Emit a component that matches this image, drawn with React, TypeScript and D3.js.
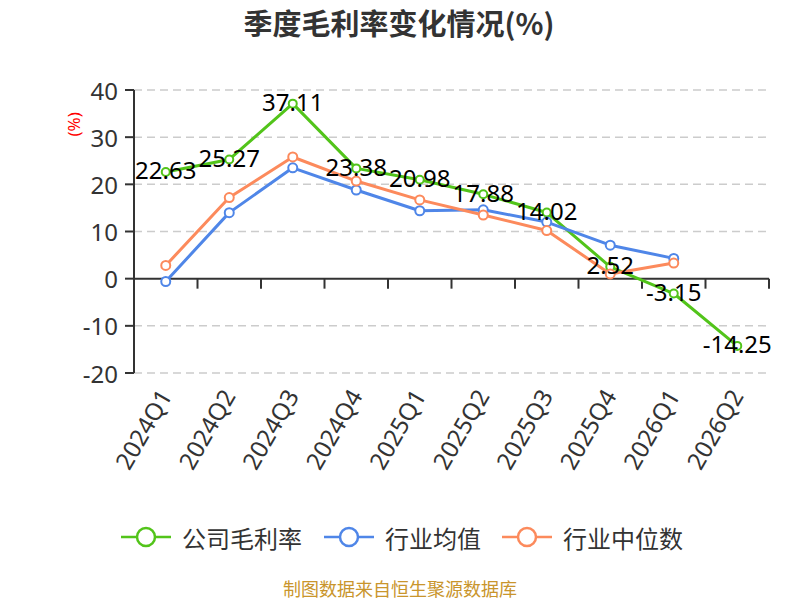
import React from "react";
import * as d3 from "d3";

const quarters = [
  "2024Q1", "2024Q2", "2024Q3", "2024Q4", "2025Q1",
  "2025Q2", "2025Q3", "2025Q4", "2026Q1", "2026Q2",
];
const companyMargin = [22.63, 25.27, 37.11, 23.38, 20.98, 17.88, 14.02, 2.52, -3.15, -14.25];
const industryAvg = [-0.6, 14.0, 23.5, 18.8, 14.4, 14.6, 12.0, 7.1, 4.3];
const industryMedian = [2.8, 17.2, 25.8, 20.7, 16.7, 13.5, 10.2, 1.0, 3.3];
const yTicks = [-20, -10, 0, 10, 20, 30, 40];

const seriesNames = ["公司毛利率", "行业均值", "行业中位数"];
const colors = ["#52c41a", "#4f86e8", "#fc8a5c"];

const FONT = "'Noto Sans', 'Noto Sans CJK SC', sans-serif";
const CJK = "'Noto Sans CJK SC', sans-serif";

const margin = { top: 90, right: 31, bottom: 227, left: 134 };
const W = 800;
const H = 600;

export default function App() {
  const x = d3
    .scaleBand<string>()
    .domain(quarters)
    .range([margin.left, W - margin.right]);
  const y = d3
    .scaleLinear()
    .domain([-20, 40])
    .range([H - margin.bottom, margin.top]);

  const cx = (i: number) => (x(quarters[i]) as number) + x.bandwidth() / 2;
  const line = d3
    .line<number>()
    .x((_, i) => cx(i))
    .y((d) => y(d));

  const all = [companyMargin, industryAvg, industryMedian];
  const y0 = y(0);

  return (
    <svg
      width={W}
      height={H}
      style={{ position: "absolute", left: 0, top: 0, background: "#fff" }}
      fontFamily={FONT}
    >
      {/* title */}
      <text x={399} y={22} textAnchor="middle" dominantBaseline="central" fontSize={29} fontWeight="bold" fill="#333" fontFamily={CJK}>
        季度毛利率变化情况(%)
      </text>

      {/* grid */}
      {yTicks.filter((t) => t !== 0).map((t) => (
        <line key={t} x1={margin.left} x2={W - margin.right} y1={y(t)} y2={y(t)}
          stroke="#ccc" strokeWidth={1.5} strokeDasharray="8,5" />
      ))}

      {/* y axis */}
      <line x1={margin.left} x2={margin.left} y1={y(40)} y2={y(-20)} stroke="#333" strokeWidth={2} />
      {yTicks.map((t) => (
        <g key={t}>
          <line x1={margin.left - 9} x2={margin.left} y1={y(t)} y2={y(t)} stroke="#333" strokeWidth={2} />
          <text x={margin.left - 16} y={y(t)} textAnchor="end" dominantBaseline="central" fontSize={24} fill="#333">
            {t}
          </text>
        </g>
      ))}
      <text transform={`translate(73,${y(32.7)}) rotate(-90)`} textAnchor="middle" dominantBaseline="central" fontSize={17} fill="#f00">
        (%)
      </text>

      {/* x axis */}
      <line x1={margin.left} x2={W - margin.right} y1={y0} y2={y0} stroke="#333" strokeWidth={2} />
      {quarters.map((q) => (
        <line key={q} x1={(x(q) as number) + x.bandwidth()} x2={(x(q) as number) + x.bandwidth()}
          y1={y0} y2={y0 + 10} stroke="#333" strokeWidth={2} />
      ))}
      {quarters.map((q, i) => (
        <text key={q} transform={`translate(${cx(i) - 1},${y(-20) + 18}) rotate(-60)`}
          textAnchor="end" dominantBaseline="central" fontSize={24} fill="#333">
          {q}
        </text>
      ))}

      {/* lines */}
      {all.map((s, k) => (
        <path key={k} d={line(s) as string} fill="none" stroke={colors[k]} strokeWidth={3} strokeLinejoin="round" />
      ))}
      {all.map((s, k) =>
        s.map((v, i) => (
          <circle key={`${k}-${i}`} cx={cx(i)} cy={y(v)} r={k === 0 ? 4 : 4.5} fill="#fff" stroke={colors[k]} strokeWidth={2} />
        ))
      )}

      {/* labels */}
      {companyMargin.map((v, i) => (
        <text key={i} x={cx(i)} y={y(v) - 2} textAnchor="middle" dominantBaseline="central" fontSize={24} fill="#000">
          {v.toFixed(2)}
        </text>
      ))}

      {/* legend */}
      {seriesNames.map((n, k) => {
        const lx = [121, 324, 502][k];
        return (
          <g key={n}>
            <line x1={lx} x2={lx + 50} y1={537} y2={537} stroke={colors[k]} strokeWidth={2.5} />
            <circle cx={lx + 25} cy={537} r={9} fill="#fff" stroke={colors[k]} strokeWidth={2.5} />
            <text x={lx + 61} y={537} dominantBaseline="central" fontSize={24} fill="#333" fontFamily={CJK}>
              {n}
            </text>
          </g>
        );
      })}

      {/* footer */}
      <text x={400} y={588} textAnchor="middle" dominantBaseline="central" fontSize={18} fill="#c9952c" fontFamily={CJK}>
        制图数据来自恒生聚源数据库
      </text>
    </svg>
  );
}
